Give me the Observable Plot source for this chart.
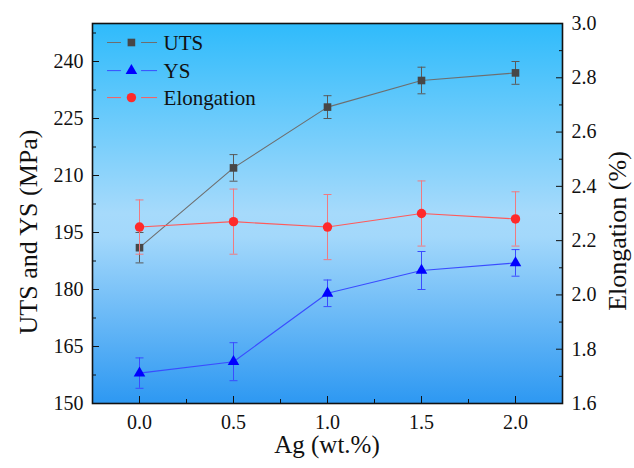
<!DOCTYPE html>
<html>
<head>
<meta charset="utf-8">
<script src="https://cdn.jsdelivr.net/npm/d3@7"></script>
<script src="https://cdn.jsdelivr.net/npm/@observablehq/plot@0.6"></script>
<style>
  html, body { margin: 0; padding: 0; background: #fff; }
  #chart svg { display: block; }
</style>
</head>
<body>
<div id="chart"></div>
<script>
// Ag content (wt.%)
const ag = [0.0, 0.5, 1.0, 1.5, 2.0];
// Ultimate tensile strength (MPa) and its error
const uts = [191, 212, 228, 235, 237];
const utsErr = [4, 3.5, 3, 3.5, 3];
// Yield strength (MPa) and its error
const ys = [158, 161, 179, 185, 187];
const ysErr = [4, 5, 3.5, 5, 3.5];
// Elongation (%) and its error
const elong = [2.25, 2.27, 2.25, 2.30, 2.28];
const elongErr = [0.10, 0.12, 0.12, 0.12, 0.10];

const xTicks = [0.0, 0.5, 1.0, 1.5, 2.0];
const leftTicks = [150, 165, 180, 195, 210, 225, 240];
const rightTicks = [1.6, 1.8, 2.0, 2.2, 2.4, 2.6, 2.8, 3.0];

const leftDomain = [150, 250];
const rightDomain = [1.6, 3.0];
// Elongation is drawn against the right-hand axis: map it into left-axis units
const e2y = d3.scaleLinear(rightDomain, leftDomain);

const FONT = "'Liberation Serif', Tinos, 'Times New Roman', Times, 'Nimbus Roman', 'DejaVu Serif', serif";

const series = [
  {name: "UTS", v: uts, err: utsErr, map: v => v, color: "#474747", line: "#6e6e6e", bar: "#5a5a5a", symbol: "square", r: 4.3},
  {name: "YS", v: ys, err: ysErr, map: v => v, color: "#0000ff", line: "#3a4cff", bar: "#3a4cff", symbol: "triangle", r: 4.3},
  {name: "Elongation", v: elong, err: elongErr, map: e2y, color: "#ff2a2a", line: "#ff5a5a", bar: "#f07a80", symbol: "circle", r: 4.7}
];

const rows = series.flatMap(s => ag.map((x, i) => ({
  name: s.name, x,
  y: s.map(s.v[i]),
  y1: s.map(s.v[i] - s.err[i]),
  y2: s.map(s.v[i] + s.err[i])
})));

// short horizontal cap used at both ends of an error bar
const capSymbol = {
  draw(context) {
    context.moveTo(-4, 0);
    context.lineTo(4, 0);
  }
};

const marks = [Plot.frame({fill: "url(#bgGrad)", stroke: "none"})];

for (const s of series) {
  const d = rows.filter(r => r.name === s.name);
  marks.push(
    Plot.ruleX(d, {x: "x", y1: "y1", y2: "y2", stroke: s.bar, strokeWidth: 1}),
    Plot.dot(d, {x: "x", y: "y1", symbol: capSymbol, stroke: s.bar, fill: "none", strokeWidth: 1}),
    Plot.dot(d, {x: "x", y: "y2", symbol: capSymbol, stroke: s.bar, fill: "none", strokeWidth: 1}),
    Plot.line(d, {x: "x", y: "y", stroke: s.line, strokeWidth: 1.1}),
    Plot.dot(d, {x: "x", y: "y", symbol: s.symbol, fill: s.color, stroke: "none", r: s.r})
  );
}

// legend in the upper-left corner of the plot area
const legendMarkX = -0.043;
const legendY = [245, 237.6, 230.5];
series.forEach((s, k) => {
  marks.push(
    Plot.ruleY([legendY[k]], {x1: -0.170, x2: -0.096, stroke: s.line, strokeWidth: 1}),
    Plot.ruleY([legendY[k]], {x1: 0.011, x2: 0.096, stroke: s.line, strokeWidth: 1}),
    Plot.dot([legendY[k]], {x: legendMarkX, y: d => d, symbol: s.symbol, fill: s.color, stroke: "none", r: s.r}),
    Plot.text([s.name], {x: 0.128, y: legendY[k], text: d => d, textAnchor: "start", fontSize: 21, fill: "#111", dy: 1, fontFamily: FONT})
  );
});

// axes: ticks point inward
const minorLeft = d3.range(157.5, 250, 15);
const minorRight = [1.7, 1.9, 2.1, 2.3, 2.5, 2.7, 2.9];
const minorX = [0.25, 0.75, 1.25, 1.75];

marks.push(
  Plot.axisY({anchor: "left", ticks: leftTicks, tickSize: -7, tickPadding: 16, fontSize: 20, fontFamily: FONT, label: null, tickFormat: d => d}),
  Plot.axisY({anchor: "left", ticks: minorLeft, tickSize: -4, tickFormat: () => "", label: null}),
  Plot.axisY({anchor: "right", ticks: rightTicks.map(e2y), tickSize: -7, tickPadding: 16, fontSize: 20, fontFamily: FONT, label: null,
              tickFormat: v => e2y.invert(v).toFixed(1)}),
  Plot.axisY({anchor: "right", ticks: minorRight.map(e2y), tickSize: -4, tickFormat: () => "", label: null}),
  Plot.axisX({anchor: "bottom", ticks: xTicks, tickSize: -7, tickPadding: 18, fontSize: 20, fontFamily: FONT, label: null, tickFormat: d => d.toFixed(1)}),
  Plot.axisX({anchor: "bottom", ticks: minorX, tickSize: -4, tickFormat: () => "", label: null}),
  Plot.frame({stroke: "#111", strokeWidth: 1.6})
);

const chart = Plot.plot({
  width: 634,
  height: 468,
  marginLeft: 92,
  marginRight: 72,
  marginTop: 23,
  marginBottom: 65,
  style: {fontSize: "20px", color: "#111", background: "transparent"},
  x: {type: "linear", domain: [-0.25, 2.25], axis: null},
  y: {type: "linear", domain: leftDomain, axis: null},
  marks
});

// vertical sky-blue gradient behind the data
const defs = d3.select(chart).insert("defs", ":first-child");
const grad = defs.append("linearGradient").attr("id", "bgGrad").attr("x1", 0).attr("y1", 0).attr("x2", 0).attr("y2", 1);
[[0, "#2fbbfb"], [0.5, "#a6dafb"], [0.56, "#a3d8fb"], [1, "#2d98f2"]].forEach(([o, c]) =>
  grad.append("stop").attr("offset", o).attr("stop-color", c));

// axis titles
const svg = d3.select(chart);
svg.append("text").attr("transform", "translate(37,232) rotate(-90)").attr("text-anchor", "middle")
  .attr("font-size", 26).attr("fill", "#111").style("font-family", FONT).text("UTS and YS (MPa)");
svg.append("text").attr("transform", "translate(626,231) rotate(-90)").attr("text-anchor", "middle")
  .attr("font-size", 26).attr("fill", "#111").style("font-family", FONT).text("Elongation (%)");
svg.append("text").attr("x", 327).attr("y", 453).attr("text-anchor", "middle")
  .attr("font-size", 25).attr("fill", "#111").style("font-family", FONT).text("Ag (wt.%)");

document.getElementById("chart").appendChild(chart);
</script>
</body>
</html>
